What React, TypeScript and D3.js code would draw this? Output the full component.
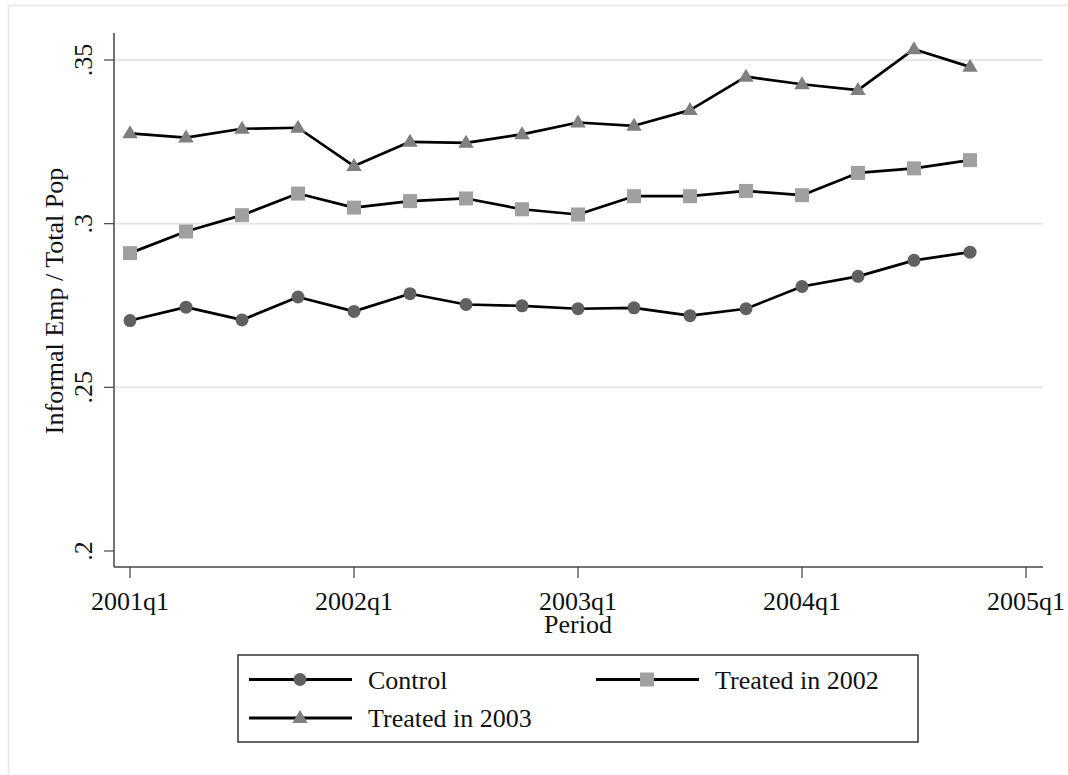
import React from "react";
import * as d3 from "d3";

const periods = ["2001q1","2001q2","2001q3","2001q4","2002q1","2002q2","2002q3","2002q4","2003q1","2003q2","2003q3","2003q4","2004q1","2004q2","2004q3","2004q4"];
const control = [0.2704,0.2745,0.2706,0.2776,0.2732,0.2786,0.2753,0.2749,0.2740,0.2743,0.2719,0.2740,0.2808,0.2839,0.2888,0.2913];
const treated2002 = [0.2910,0.2976,0.3026,0.3092,0.3049,0.3069,0.3077,0.3044,0.3028,0.3084,0.3084,0.3100,0.3087,0.3155,0.3169,0.3194];
const treated2003 = [0.3276,0.3263,0.3290,0.3293,0.3176,0.3250,0.3247,0.3273,0.3309,0.3299,0.3347,0.3449,0.3426,0.3408,0.3533,0.3479];
const xTickIdx = [0,4,8,12,16];
const xTickLabels = ["2001q1","2002q1","2003q1","2004q1","2005q1"];
const yTicks = [0.2,0.25,0.3,0.35];
const yTickLabels = [".2",".25",".3",".35"];
const seriesNames = ["Control","Treated in 2002","Treated in 2003"];

const FONT = "'Liberation Serif', 'Times New Roman', serif";

function Marker({ kind, x, y }: { kind: string; x: number; y: number }) {
  if (kind === "circle") return <circle cx={x} cy={y} r={6.5} fill="#606060" />;
  if (kind === "square") return <rect x={x - 7} y={y - 7} width={14} height={14} fill="#a0a0a0" />;
  const h = 13, w = 15.5;
  return <path d={`M${x},${y - h * 0.62} L${x + w / 2},${y + h * 0.38} L${x - w / 2},${y + h * 0.38} Z`} fill="#7f7f7f" />;
}

export default function App() {
  const x = d3.scaleLinear().domain([0, 16]).range([130, 1026]);
  const y = d3.scaleLinear().domain([0.2, 0.35]).range([551, 60]);
  const line = d3.line<number>().x((_, i) => x(i)).y((d) => y(d));
  const series = [
    { name: seriesNames[0], data: control, kind: "circle" },
    { name: seriesNames[1], data: treated2002, kind: "square" },
    { name: seriesNames[2], data: treated2003, kind: "triangle" },
  ];
  const axisLeft = 114, axisRight = 1043, axisTop = 33, axisBottom = 567;
  const legendItems = [
    { s: series[0], lx: 249, ly: 679.5 },
    { s: series[1], lx: 596, ly: 679.5 },
    { s: series[2], lx: 249, ly: 718 },
  ];
  return (
    <svg width={1068} height={775} style={{ position: "absolute", left: 0, top: 0, background: "#fff" }} fontFamily={FONT}>
      <rect x={0} y={0} width={1068} height={775} fill="#fff" />
      <rect x={8.5} y={5.5} width={1080} height={790} fill="#fff" stroke="#ececec" strokeWidth={2} />
      {yTicks.map((t, i) => (
        i > 0 ? <line key={"g" + i} x1={axisLeft} x2={axisRight} y1={y(t)} y2={y(t)} stroke="#e8e8e8" strokeWidth={2} /> : null
      ))}
      <line x1={axisLeft} x2={axisLeft} y1={axisTop} y2={axisBottom} stroke="#444" strokeWidth={1.5} />
      <line x1={axisLeft} x2={axisRight} y1={axisBottom} y2={axisBottom} stroke="#444" strokeWidth={1.5} />
      {yTicks.map((t, i) => (
        <g key={"yt" + i}>
          <line x1={axisLeft - 10} x2={axisLeft} y1={y(t)} y2={y(t)} stroke="#444" strokeWidth={1.2} />
          <text transform={`translate(92,${y(t)}) rotate(-90)`} textAnchor="middle" fontSize={26} fill="#111">{yTickLabels[i]}</text>
        </g>
      ))}
      {xTickIdx.map((t, i) => (
        <g key={"xt" + i}>
          <line x1={x(t)} x2={x(t)} y1={axisBottom} y2={axisBottom + 11} stroke="#444" strokeWidth={1.2} />
          <text x={x(t)} y={610} textAnchor="middle" fontSize={26} fill="#111">{xTickLabels[i]}</text>
        </g>
      ))}
      <text x={578} y={633} textAnchor="middle" fontSize={26} fill="#111">Period</text>
      <text transform={`translate(63,301) rotate(-90)`} textAnchor="middle" fontSize={26} fill="#111">Informal Emp / Total Pop</text>
      {series.map((s) => (
        <g key={s.name}>
          <path d={line(s.data) || ""} fill="none" stroke="#000" strokeWidth={2.7} strokeLinejoin="round" />
          {s.data.map((v, i) => <Marker key={i} kind={s.kind} x={x(i)} y={y(v)} />)}
        </g>
      ))}
      <rect x={238} y={655} width={680} height={87} fill="#fff" stroke="#333" strokeWidth={1.5} />
      {legendItems.map(({ s, lx, ly }) => (
        <g key={"lg" + s.name}>
          <line x1={lx} x2={lx + 103} y1={ly} y2={ly} stroke="#000" strokeWidth={3} />
          <Marker kind={s.kind} x={lx + 51} y={ly} />
          <text x={lx + 119} y={ly + 9} fontSize={26} fill="#111">{s.name}</text>
        </g>
      ))}
    </svg>
  );
}
